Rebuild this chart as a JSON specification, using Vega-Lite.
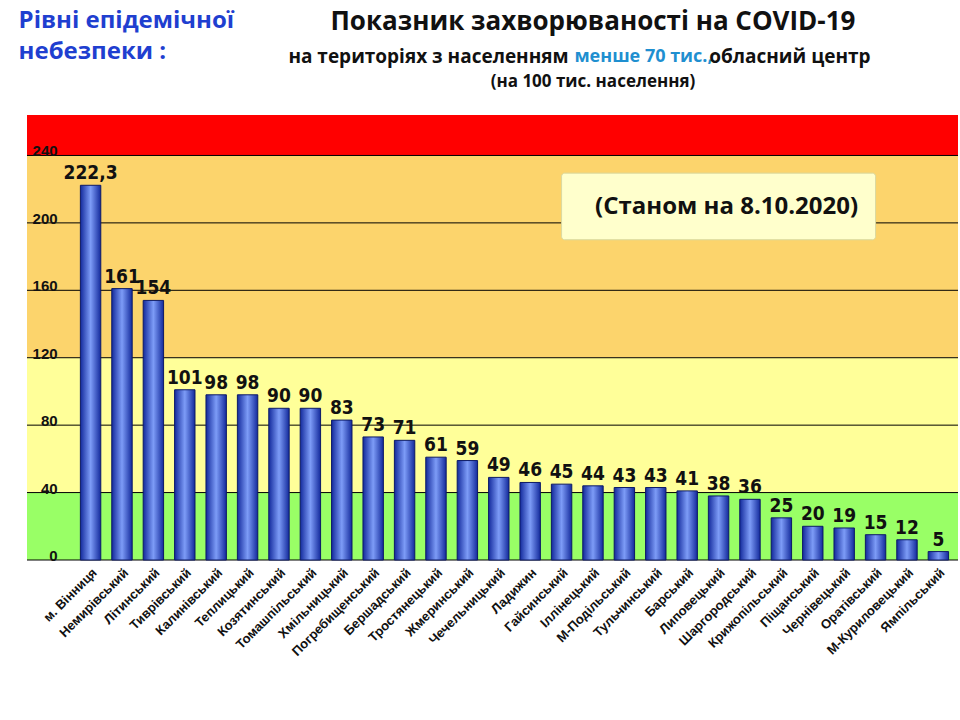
{
  "$schema": "https://vega.github.io/schema/vega-lite/v6.json",
  "width": 931,
  "height": 445,
  "autosize": "none",
  "padding": {"left": 27, "top": 115, "right": 2, "bottom": 160},
  "background": "white",
  "config": {"view": {"stroke": null}, "font": "Liberation Sans"},
  "datasets": {
    "bars": [
      {"r": "м. Вінниця", "v": 222.3, "l": "222,3"},
      {"r": "Немирівський", "v": 161, "l": "161"},
      {"r": "Літинський", "v": 154, "l": "154"},
      {"r": "Тиврівський", "v": 101, "l": "101"},
      {"r": "Калинівський", "v": 98, "l": "98"},
      {"r": "Теплицький", "v": 98, "l": "98"},
      {"r": "Козятинський", "v": 90, "l": "90"},
      {"r": "Томашпільський", "v": 90, "l": "90"},
      {"r": "Хмільницький", "v": 83, "l": "83"},
      {"r": "Погребищенський", "v": 73, "l": "73"},
      {"r": "Бершадський", "v": 71, "l": "71"},
      {"r": "Тростянецький", "v": 61, "l": "61"},
      {"r": "Жмеринський", "v": 59, "l": "59"},
      {"r": "Чечельницький", "v": 49, "l": "49"},
      {"r": "Ладижин", "v": 46, "l": "46"},
      {"r": "Гайсинський", "v": 45, "l": "45"},
      {"r": "Іллінецький", "v": 44, "l": "44"},
      {"r": "М-Подільський", "v": 43, "l": "43"},
      {"r": "Тульчинський", "v": 43, "l": "43"},
      {"r": "Барський", "v": 41, "l": "41"},
      {"r": "Липовецький", "v": 38, "l": "38"},
      {"r": "Шаргородський", "v": 36, "l": "36"},
      {"r": "Крижопільський", "v": 25, "l": "25"},
      {"r": "Піщанський", "v": 20, "l": "20"},
      {"r": "Чернівецький", "v": 19, "l": "19"},
      {"r": "Оратівський", "v": 15, "l": "15"},
      {"r": "М-Куриловецький", "v": 12, "l": "12"},
      {"r": "Ямпільський", "v": 5, "l": "5"}
    ],
    "zones": [
      {"lo": 0, "hi": 40, "c": "#99ff66"},
      {"lo": 40, "hi": 120, "c": "#ffff99"},
      {"lo": 120, "hi": 240, "c": "#fcd46c"},
      {"lo": 240, "hi": 264, "c": "#ff0000"}
    ],
    "grid": [{"g": 0}, {"g": 40}, {"g": 80}, {"g": 120}, {"g": 160}, {"g": 200}, {"g": 240}]
  },
  "data": {"name": "bars"},
  "encoding": {
    "x": {
      "field": "r", "type": "nominal", "sort": null,
      "scale": {"paddingInner": 0.35, "paddingOuter": 2, "align": 0.85},
      "axis": {"title": null, "labelAngle": -45, "labelFontSize": 13, "labelFontWeight": "bold", "labelColor": "#111", "ticks": false, "domain": false, "labelPadding": 6}
    },
    "y": {
      "type": "quantitative",
      "scale": {"domain": [0, 264], "nice": false, "zero": true},
      "axis": null
    }
  },
  "layer": [
    {
      "data": {"name": "zones"},
      "mark": {"type": "rect"},
      "encoding": {
        "x": null,
        "y": {"field": "lo", "type": "quantitative"},
        "y2": {"field": "hi"},
        "color": {"field": "c", "type": "nominal", "scale": null, "legend": null}
      }
    },
    {
      "data": {"name": "grid"},
      "mark": {"type": "rule", "color": "#000", "strokeWidth": 1},
      "encoding": {"x": null, "y": {"field": "g", "type": "quantitative"}}
    },
    {
      "data": {"name": "grid"},
      "mark": {"type": "text", "align": "right", "baseline": "bottom", "dx": -33, "dy": 4, "fontSize": 15, "fontWeight": "bold", "color": "#111"},
      "encoding": {"x": {"datum": "м. Вінниця"}, "y": {"field": "g", "type": "quantitative"}, "text": {"field": "g"}}
    },
    {
      "mark": {
        "type": "bar", "stroke": "#0d1a66", "strokeWidth": 1,
        "fill": {"gradient": "linear", "x1": 0, "x2": 1, "y1": 0, "y2": 0,
          "stops": [{"offset": 0, "color": "#132a9c"}, {"offset": 0.5, "color": "#7d9cf7"}, {"offset": 1, "color": "#132a9c"}]}
      },
      "encoding": {"y": {"field": "v", "type": "quantitative"}}
    },
    {
      "mark": {"type": "text", "baseline": "bottom", "dy": -2, "fontSize": 19, "fontWeight": "bold", "font": "DejaVu Sans Condensed", "color": "#111"},
      "encoding": {"y": {"field": "v", "type": "quantitative"}, "text": {"field": "l"}}
    },
    {
      "data": {"values": [{}]},
      "mark": {"type": "rect", "fill": "#ffffcc", "stroke": "#d9d9a0", "cornerRadius": 3},
      "encoding": {"x": {"datum": "Гайсинський"}, "x2": {"datum": "Оратівський"}, "y": {"datum": 229.5}, "y2": {"datum": 190}}
    },
    {
      "data": {"values": [{"t": "(Станом на 8.10.2020)"}]},
      "mark": {"type": "text", "fontSize": 24, "fontWeight": "bold", "font": "Open Sans", "color": "#111", "dx": 8},
      "encoding": {"x": {"datum": "Липовецький"}, "y": {"datum": 209.5}, "text": {"field": "t"}}
    },
    {
      "data": {"values": [{"t": "Показник захворюваності на COVID-19"}]},
      "mark": {"type": "text", "fontSize": 26, "fontWeight": "bold", "font": "Open Sans", "color": "#111"},
      "encoding": {"x": {"datum": "Іллінецький"}, "y": {"datum": 319}, "text": {"field": "t"}}
    },
    {
      "data": {"values": [{"t": "на територіях з населенням"}]},
      "mark": {"type": "text", "fontSize": 19, "fontWeight": "bold", "font": "Open Sans", "color": "#111", "align": "right", "dx": 7},
      "encoding": {"x": {"datum": "Гайсинський"}, "y": {"datum": 298.4}, "text": {"field": "t"}}
    },
    {
      "data": {"values": [{"t": "менше 70 тис.,"}]},
      "mark": {"type": "text", "fontSize": 18, "fontWeight": "bold", "font": "Open Sans", "color": "#1f8fd0", "align": "left", "dx": -50},
      "encoding": {"x": {"datum": "М-Подільський"}, "y": {"datum": 298.4}, "text": {"field": "t"}}
    },
    {
      "data": {"values": [{"t": "обласний центр"}]},
      "mark": {"type": "text", "fontSize": 19, "fontWeight": "bold", "font": "Open Sans", "color": "#111", "align": "left", "dx": 22},
      "encoding": {"x": {"datum": "Барський"}, "y": {"datum": 298.4}, "text": {"field": "t"}}
    },
    {
      "data": {"values": [{"t": "(на 100  тис. населення)"}]},
      "mark": {"type": "text", "fontSize": 17, "fontWeight": "bold", "font": "Open Sans", "color": "#111"},
      "encoding": {"x": {"datum": "Іллінецький"}, "y": {"datum": 283.6}, "text": {"field": "t"}}
    },
    {
      "data": {"values": [{"t": "Рівні епідемічної", "p": 319.5}, {"t": "небезпеки :", "p": 301.5}]},
      "mark": {"type": "text", "fontSize": 24, "fontWeight": "bold", "font": "Open Sans", "color": "#1f3fd0", "align": "left", "dx": -72},
      "encoding": {"x": {"datum": "м. Вінниця"}, "y": {"field": "p", "type": "quantitative"}, "text": {"field": "t"}}
    }
  ]
}
